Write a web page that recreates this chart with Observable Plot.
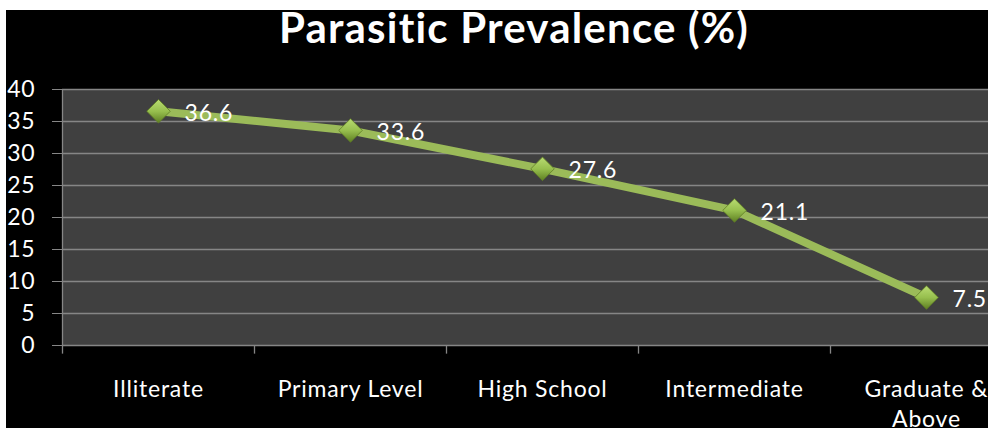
<!DOCTYPE html>
<html>
<head>
<meta charset="utf-8">
<script src="https://cdn.jsdelivr.net/npm/d3@7"></script>
<script src="https://cdn.jsdelivr.net/npm/@observablehq/plot@0.6"></script>
<style>
  html, body { margin: 0; padding: 0; background: #ffffff; }
  #wrap { position: absolute; left: 6px; top: 10px; width: 982px; height: 418px; background: #000; overflow: hidden; }
  #title { position: absolute; left: 514px; top: 2px; transform: translateX(-50%); white-space: nowrap;
           font-family: Lato, sans-serif; font-weight: bold; font-size: 42px; line-height: normal; letter-spacing: 1.2px; color: #fff; }
  #chart { position: absolute; left: 0; top: 0; }
  #chart svg text { letter-spacing: 0.8px; }
</style>
</head>
<body>
<div id="wrap">
  <div id="chart"></div>
</div>
<div id="title">Parasitic Prevalence (%)</div>
<script>
const titleText = "Parasitic Prevalence (%)";
const categories = ["Illiterate", "Primary Level", "High School", "Intermediate", "Graduate & Above"];
const tickLabels = ["Illiterate", "Primary Level", "High School", "Intermediate", "Graduate &\nAbove"];
const values = [36.6, 33.6, 27.6, 21.1, 7.5];
const yTicks = [0, 5, 10, 15, 20, 25, 30, 35, 40];

document.getElementById("title").textContent = titleText;

const data = categories.map((c, i) => ({cat: c, value: values[i]}));
const labelOf = new Map(categories.map((c, i) => [c, tickLabels[i]]));

const W = 982, H = 418, ML = 56, MR = -34;
const halfBand = (W - ML - MR) / categories.length / 2;
const grid = "#868686";

const plot = Plot.plot({
  width: W,
  height: H,
  marginTop: 79,
  marginBottom: 83,
  marginLeft: ML,
  marginRight: MR,
  style: {background: "transparent", color: "white", fontFamily: "Lato, sans-serif", fontSize: "23px", overflow: "hidden"},
  x: {type: "band", domain: categories, padding: 0},
  y: {domain: [0, 40]},
  marks: [
    Plot.frame({fill: "#404040", stroke: null}),
    Plot.ruleY(yTicks, {stroke: grid, strokeWidth: 1.3}),
    Plot.ruleX(categories.slice(0, 1), {x: d => d, dx: -halfBand, y1: 0, y2: 40, stroke: grid, strokeWidth: 1.3}),
    Plot.ruleX(categories, {x: d => d, dx: -halfBand, y1: -1.35, y2: 0, stroke: grid, strokeWidth: 1.3}),
    Plot.axisY({ticks: yTicks, tickSize: 10, tickPadding: 17, stroke: grid, fill: "white", fontSize: 23, label: null}),
    Plot.axisX({tickSize: 0, tickPadding: 30, fill: "white", fontSize: 23, lineHeight: 1.3, label: null,
                tickFormat: d => labelOf.get(d)}),
    Plot.line(data, {x: "cat", y: "value", stroke: "#9bbb59", strokeWidth: 8, strokeLinejoin: "round"}),
    Plot.dot(data, {x: "cat", y: "value", symbol: "diamond2", r: 10.6, fill: "#8fb24a", stroke: "#5f7d25", strokeWidth: 0.8}),
    Plot.text(data, {x: "cat", y: "value", text: d => String(d.value), dx: 26, dy: 2, textAnchor: "start", fill: "white", fontSize: 23})
  ]
});

// gradient for the diamond markers
const ns = "http://www.w3.org/2000/svg";
const defs = document.createElementNS(ns, "defs");
defs.innerHTML = '<linearGradient id="dg" x1="0" y1="0" x2="0" y2="1">' +
  '<stop offset="0" stop-color="#b9dc72"/><stop offset="0.5" stop-color="#97bf4e"/><stop offset="1" stop-color="#5e7f22"/></linearGradient>';
plot.insertBefore(defs, plot.firstChild);
plot.querySelectorAll('g[aria-label="dot"] path').forEach(p => p.setAttribute("fill", "url(#dg)"));

document.getElementById("chart").appendChild(plot);
</script>
</body>
</html>
